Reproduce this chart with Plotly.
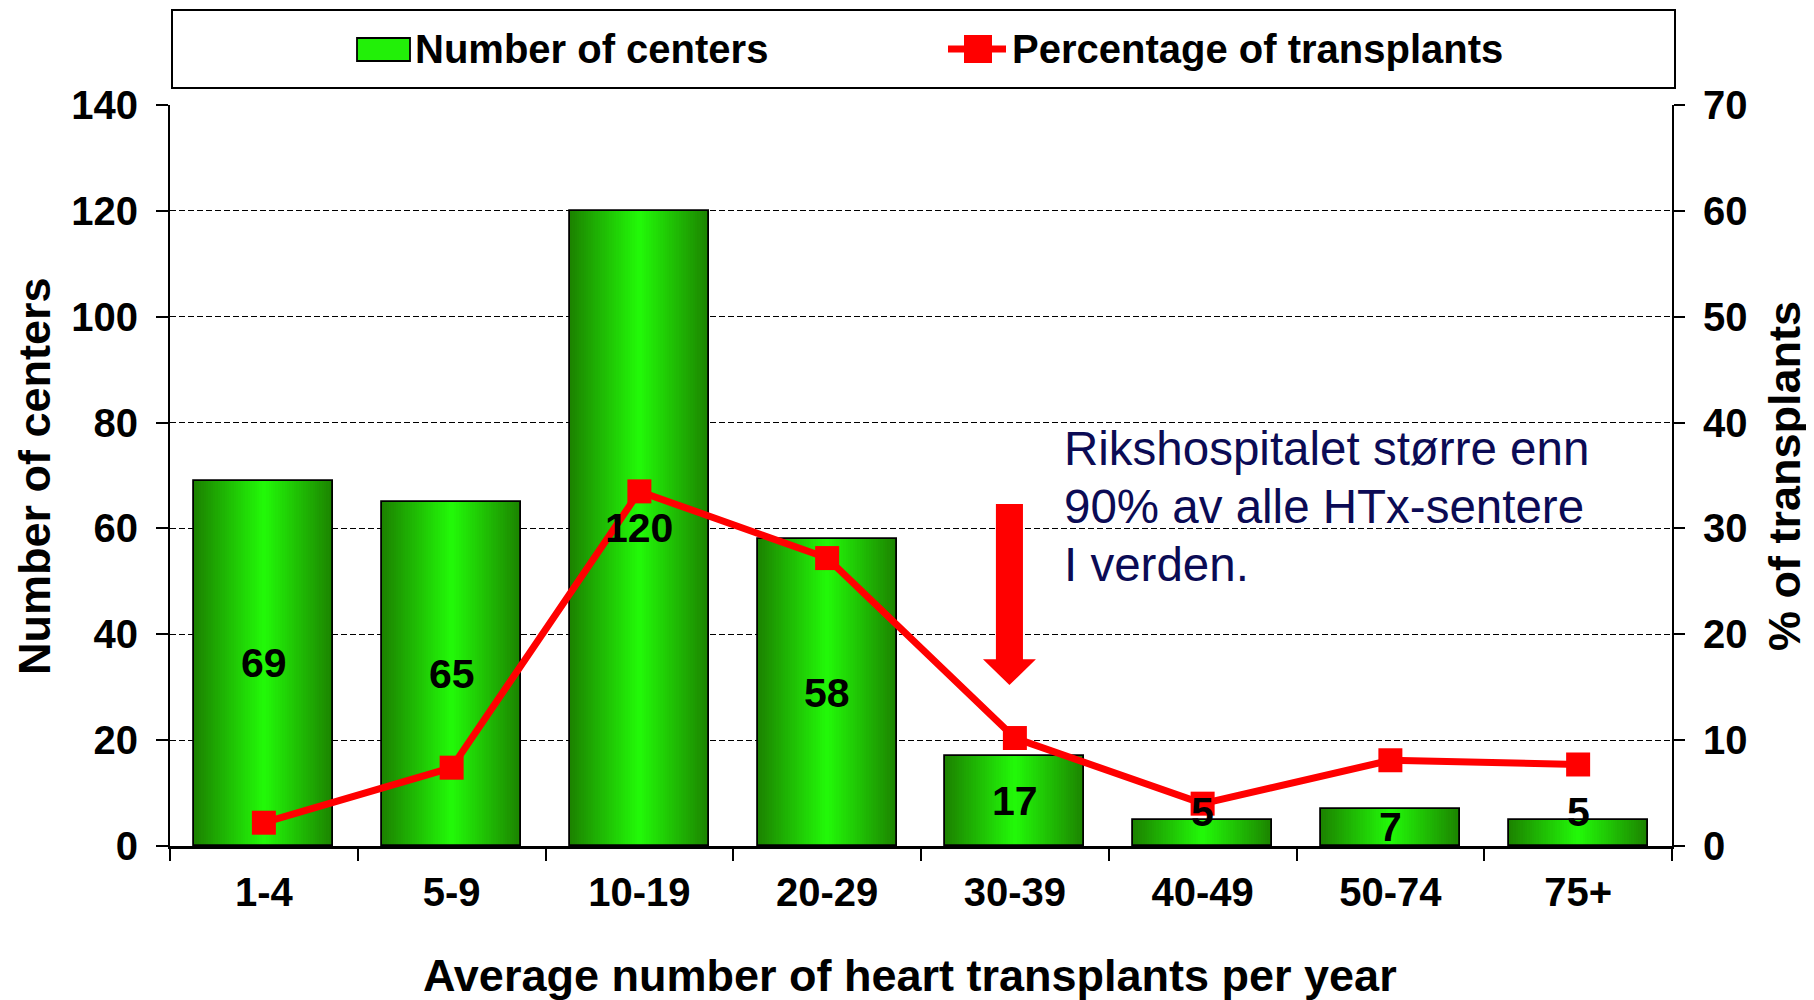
import plotly.graph_objects as go

# ---------------- data ----------------
categories = ["1-4", "5-9", "10-19", "20-29", "30-39", "40-49", "50-74", "75+"]
centers = [69, 65, 120, 58, 17, 5, 7, 5]
pct_transplants = [2.2, 7.4, 33.5, 27.2, 10.2, 4.0, 8.1, 7.7]
left_ticks = [0, 20, 40, 60, 80, 100, 120, 140]
right_ticks = [0, 10, 20, 30, 40, 50, 60, 70]
note_lines = ["Rikshospitalet større enn", "90% av alle HTx-sentere", "I verden."]

# ---------------- geometry helpers (page pixel coords) ----------------
W, H = 1814, 1000
OFF = 8  # page body margin
PL, PR, PT, PB = 170, 1672, 105, 846
def px(x):
    return (x - PL) / (PR - PL)
def py(y):
    return (PB - y) / (PB - PT)

FONT = "Liberation Sans, Arial, sans-serif"
BAR_W = 0.74
DARK = (28, 132, 0)
BRIGHT = (34, 248, 8)
N = 30

fig = go.Figure()

# gradient bars: stacked overlay layers from wide/dark to narrow/bright
for k in range(N):
    t = k / (N - 1)
    c = tuple(round(DARK[i] + (BRIGHT[i] - DARK[i]) * t) for i in range(3))
    fig.add_trace(go.Bar(
        x=categories, y=centers, width=BAR_W * (1 - k / N),
        marker=dict(color=f"rgb{c}", line=dict(width=0)),
        showlegend=False, hoverinfo="skip", yaxis="y"))
# outline
fig.add_trace(go.Bar(
    x=categories, y=centers, width=BAR_W, name="Number of centers",
    marker=dict(color="rgba(0,0,0,0)", line=dict(color="black", width=1.8)),
    showlegend=False, yaxis="y"))

# percentage line
fig.add_trace(go.Scatter(
    x=categories, y=pct_transplants, yaxis="y2", mode="lines+markers",
    name="Percentage of transplants",
    line=dict(color="#ff0000", width=7),
    marker=dict(symbol="square", size=24, color="#ff0000"),
    showlegend=False))

annotations = []
# bar value labels
for c, v in zip(categories, centers):
    yl = v / 2 if v >= 6 else v + 1.5
    annotations.append(dict(x=c, y=yl, xref="x", yref="y", text=str(v), showarrow=False,
                            font=dict(family=FONT, size=41, color="black", weight="bold"),
                            xanchor="center", yanchor="middle"))

# axis titles
annotations.append(dict(x=px(35), y=py(476), xref="paper", yref="paper", text="Number of centers",
                        textangle=-90, showarrow=False, xanchor="center", yanchor="middle",
                        font=dict(family=FONT, size=45, color="black", weight="bold")))
annotations.append(dict(x=px(1785), y=py(476), xref="paper", yref="paper", text="% of transplants",
                        textangle=-90, showarrow=False, xanchor="center", yanchor="middle",
                        font=dict(family=FONT, size=45, color="black", weight="bold")))
annotations.append(dict(x=px(910), y=py(975), xref="paper", yref="paper",
                        text="Average number of heart transplants per year",
                        showarrow=False, xanchor="center", yanchor="middle",
                        font=dict(family=FONT, size=45, color="black", weight="bold")))

# note text
for i, line in enumerate(note_lines):
    annotations.append(dict(x=px(1062), y=py(448 + 58 * i), xref="paper", yref="paper",
                            text=line, showarrow=False, xanchor="left", yanchor="middle",
                            font=dict(family=FONT, size=47.5, color="#0b0b55")))

# legend texts
annotations.append(dict(x=px(413), y=py(49), xref="paper", yref="paper", text="Number of centers",
                        showarrow=False, xanchor="left", yanchor="middle",
                        font=dict(family=FONT, size=40, color="black", weight="bold")))
annotations.append(dict(x=px(1010), y=py(49), xref="paper", yref="paper",
                        text="Percentage of transplants",
                        showarrow=False, xanchor="left", yanchor="middle",
                        font=dict(family=FONT, size=40, color="black", weight="bold")))

shapes = []
# legend box
shapes.append(dict(type="rect", xref="paper", yref="paper", x0=px(172), x1=px(1675),
                   y0=py(88), y1=py(10), line=dict(color="black", width=2), fillcolor="white",
                   layer="below"))
# legend swatches
shapes.append(dict(type="rect", xref="paper", yref="paper", x0=px(357), x1=px(410),
                   y0=py(61), y1=py(38), line=dict(color="black", width=1.8),
                   fillcolor="rgb(34,240,8)"))
shapes.append(dict(type="line", xref="paper", yref="paper", x0=px(948), x1=px(1006),
                   y0=py(49), y1=py(49), line=dict(color="#ff0000", width=7)))
shapes.append(dict(type="rect", xref="paper", yref="paper", x0=px(964), x1=px(992),
                   y0=py(63), y1=py(35), line=dict(width=0), fillcolor="#ff0000"))

# red arrow (category index 4 = "30-39")
xc = 3.971
sh, hh = 0.072, 0.141
y_top, y_base, y_tip = 64.6, 35.3, 30.4
path = (f"M {xc-sh},{y_top} L {xc+sh},{y_top} L {xc+sh},{y_base} L {xc+hh},{y_base} "
        f"L {xc},{y_tip} L {xc-hh},{y_base} L {xc-sh},{y_base} Z")
shapes.append(dict(type="path", xref="x", yref="y", path=path,
                   fillcolor="#ff0000", line=dict(width=0), layer="above"))

tickfont = dict(family=FONT, size=40, color="black", weight="bold")

fig.update_layout(
    width=W, height=H,
    margin=dict(l=PL - OFF, r=W - (PR - OFF), t=PT - OFF, b=H - (PB - OFF)),
    paper_bgcolor="white", plot_bgcolor="white",
    barmode="overlay", bargap=0,
    showlegend=False,
    annotations=annotations, shapes=shapes,
    xaxis=dict(type="category", range=[-0.5, 7.5], tickson="boundaries",
               ticks="outside", ticklen=12, tickwidth=1.5, tickcolor="black",
               showline=True, linecolor="black", linewidth=2.5,
               showgrid=False, tickfont=tickfont, ticklabelstandoff=9),
    yaxis=dict(range=[0, 140], tickvals=left_ticks, ticks="outside", ticklen=12,
               tickwidth=1.5, tickcolor="black", showline=True, linecolor="black",
               linewidth=2, showgrid=True, gridcolor="black", gridwidth=1.3,
               griddash="6px,3px", zeroline=False, tickfont=tickfont,
               ticklabelstandoff=10),
    yaxis2=dict(range=[0, 70], tickvals=right_ticks, overlaying="y", side="right",
                ticks="outside", ticklen=11, tickwidth=1.5, tickcolor="black",
                showline=True, linecolor="black", linewidth=2, showgrid=False,
                zeroline=False, tickfont=tickfont, ticklabelstandoff=10),
)

fig.write_html("out.html")
